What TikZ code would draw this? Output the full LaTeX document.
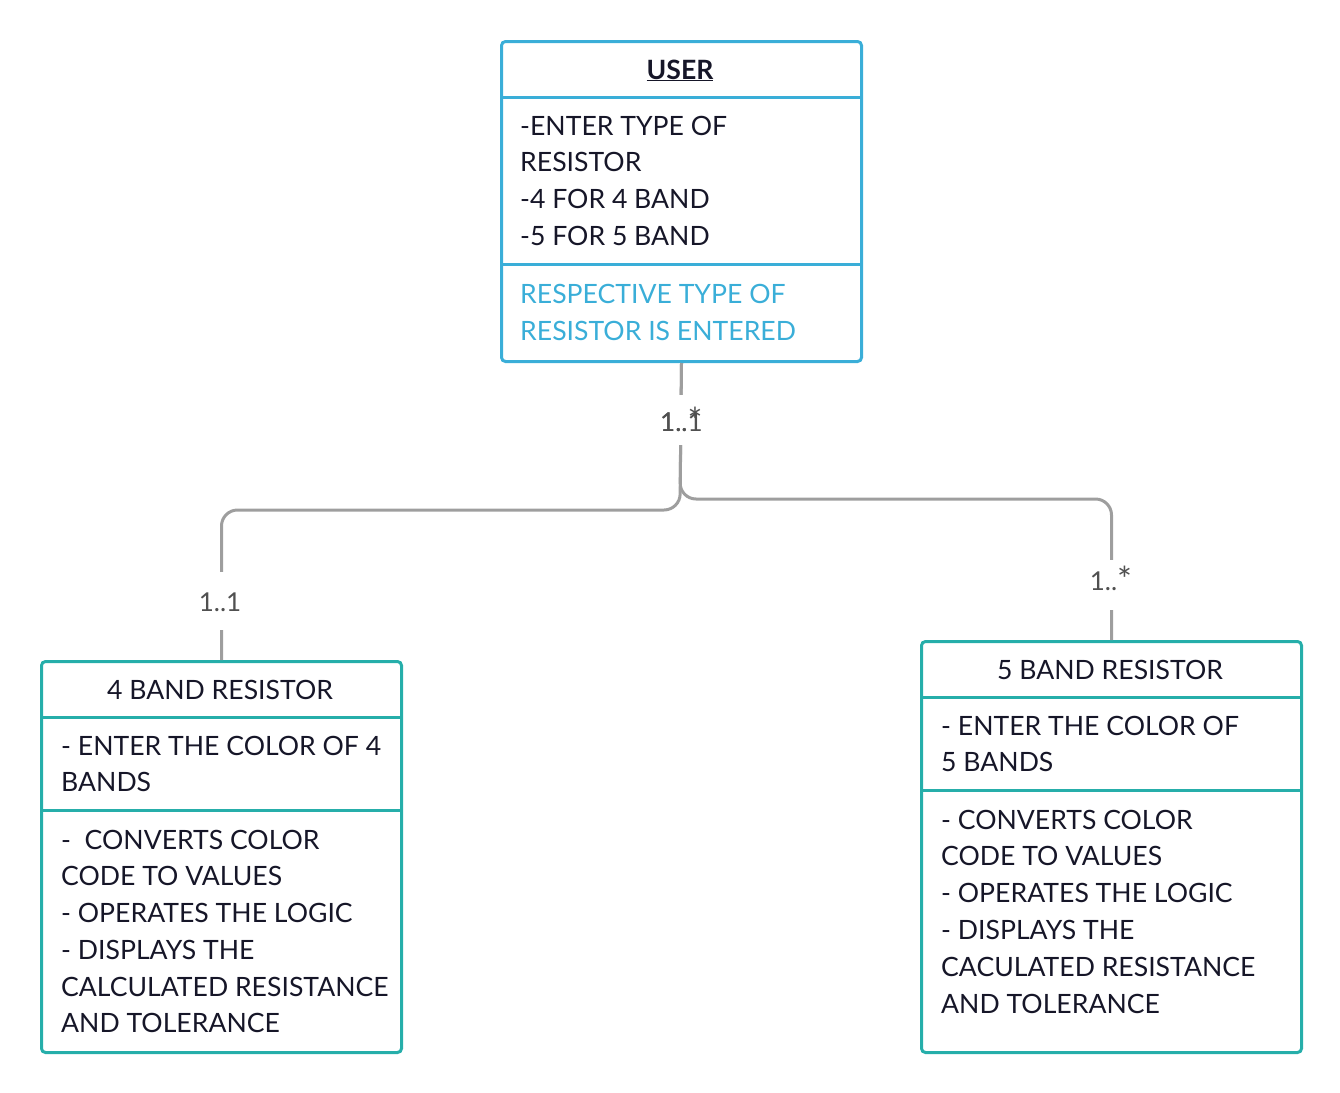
\documentclass[tikz,border=0pt]{standalone}
\usepackage{fontspec}
\setmainfont{Lato}
\definecolor{ublue}{RGB}{58,174,216}
\definecolor{teal2}{RGB}{38,174,170}
\definecolor{ink}{RGB}{22,22,40}
\definecolor{conn}{RGB}{158,158,158}
\definecolor{lbl}{RGB}{80,80,80}
\newcommand{\bigast}{\raisebox{-0.1em}{\scalebox{1.35}{*}}}
\begin{document}
\begin{tikzpicture}[x=1pt,y=-1pt,
  txt/.style={anchor=base west,inner sep=0pt,text=ink,font=\fontsize{26.6}{37}\selectfont},
  ttl/.style={anchor=base,inner sep=0pt,text=ink,font=\fontsize{26.6}{37}\selectfont},
  bluetxt/.style={txt,text=ublue},
  ubox/.style={draw=ublue,line width=3pt,rounded corners=4pt},
  tbox/.style={draw=teal2,line width=3pt,rounded corners=4pt},
  wire/.style={draw=conn,line width=3pt,rounded corners=16pt},
  mult/.style={anchor=base,text=lbl,font=\fontsize{26}{37}\selectfont,inner xsep=4pt,inner ysep=0pt}
]
\useasboundingbox (0,0) rectangle (1340,1092);

% box outlines as named nodes
\node[ubox,inner sep=0pt,minimum width=360pt,minimum height=320pt,anchor=north west] (user) at (500,40) {};
\node[tbox,inner sep=0pt,minimum width=360pt,minimum height=391pt,anchor=north west] (four) at (40,660) {};
\node[tbox,inner sep=0pt,minimum width=380pt,minimum height=411pt,anchor=north west] (five) at (920,640) {};

% connectors
\path[wire] (user.south) -- (680,510) -| (four.north);
\path[wire] (user.south) -- (680,499) -| (five.north);

% compartments
\draw[ublue,line width=3pt] (500,97) -- (860,97);
\draw[ublue,line width=3pt] (500,264) -- (860,264);
\draw[teal2,line width=3pt] (40,717) -- (400,717);
\draw[teal2,line width=3pt] (40,810) -- (400,810);
\draw[teal2,line width=3pt] (920,697) -- (1300,697);
\draw[teal2,line width=3pt] (920,790) -- (1300,790);

% USER
\node[ttl,font=\fontsize{26.6}{37}\selectfont\bfseries] (ut) at (680,79) {\underline{USER}};
\node[txt] (u1) at (520,135) {-ENTER TYPE OF};
\node[txt] (u2) at (520,171) {RESISTOR};
\node[txt] (u3) at (520,208) {-4 FOR 4 BAND};
\node[txt] (u4) at (520,245) {-5 FOR 5 BAND};
\node[bluetxt] (u5) at (520,303) {RESPECTIVE TYPE OF};
\node[bluetxt] (u6) at (520,340) {RESISTOR IS ENTERED};

% 4 BAND
\node[ttl] (ft) at (220,699) {4 BAND RESISTOR};
\node[txt] (f1) at (61,755) {- ENTER THE COLOR OF 4};
\node[txt] (f2) at (61,791) {BANDS};
\node[txt] (f3) at (61,849) {-\ \ CONVERTS COLOR};
\node[txt] (f4) at (61,885) {CODE TO VALUES};
\node[txt] (f5) at (61,922) {- OPERATES THE LOGIC};
\node[txt] (f6) at (61,959) {- DISPLAYS THE};
\node[txt] (f7) at (61,996) {CALCULATED RESISTANCE};
\node[txt] (f8) at (61,1032) {AND TOLERANCE};

% 5 BAND
\node[ttl] (vt) at (1110,679) {5 BAND RESISTOR};
\node[txt] (v1) at (941,735) {- ENTER THE COLOR OF};
\node[txt] (v2) at (941,771) {5 BANDS};
\node[txt] (v3) at (941,829) {- CONVERTS COLOR};
\node[txt] (v4) at (941,865) {CODE TO VALUES};
\node[txt] (v5) at (941,902) {- OPERATES THE LOGIC};
\node[txt] (v6) at (941,939) {- DISPLAYS THE};
\node[txt] (v7) at (941,976) {CACULATED RESISTANCE};
\node[txt] (v8) at (941,1013) {AND TOLERANCE};

% multiplicities
\fill[white] (670,395) rectangle (690,445);
\fill[white] (210,572) rectangle (230,630);
\fill[white] (1100,560) rectangle (1120,610);
\node[mult,anchor=base west,fill=white] (m1) at (656,431) {1..1};
\node[mult,anchor=base west] (m2) at (656,431) {1..\bigast};
\node[mult,fill=white] (m3) at (220,611) {1..1};
\node[mult,fill=white] (m4) at (1111,590) {1..\bigast};
\end{tikzpicture}
\end{document}
